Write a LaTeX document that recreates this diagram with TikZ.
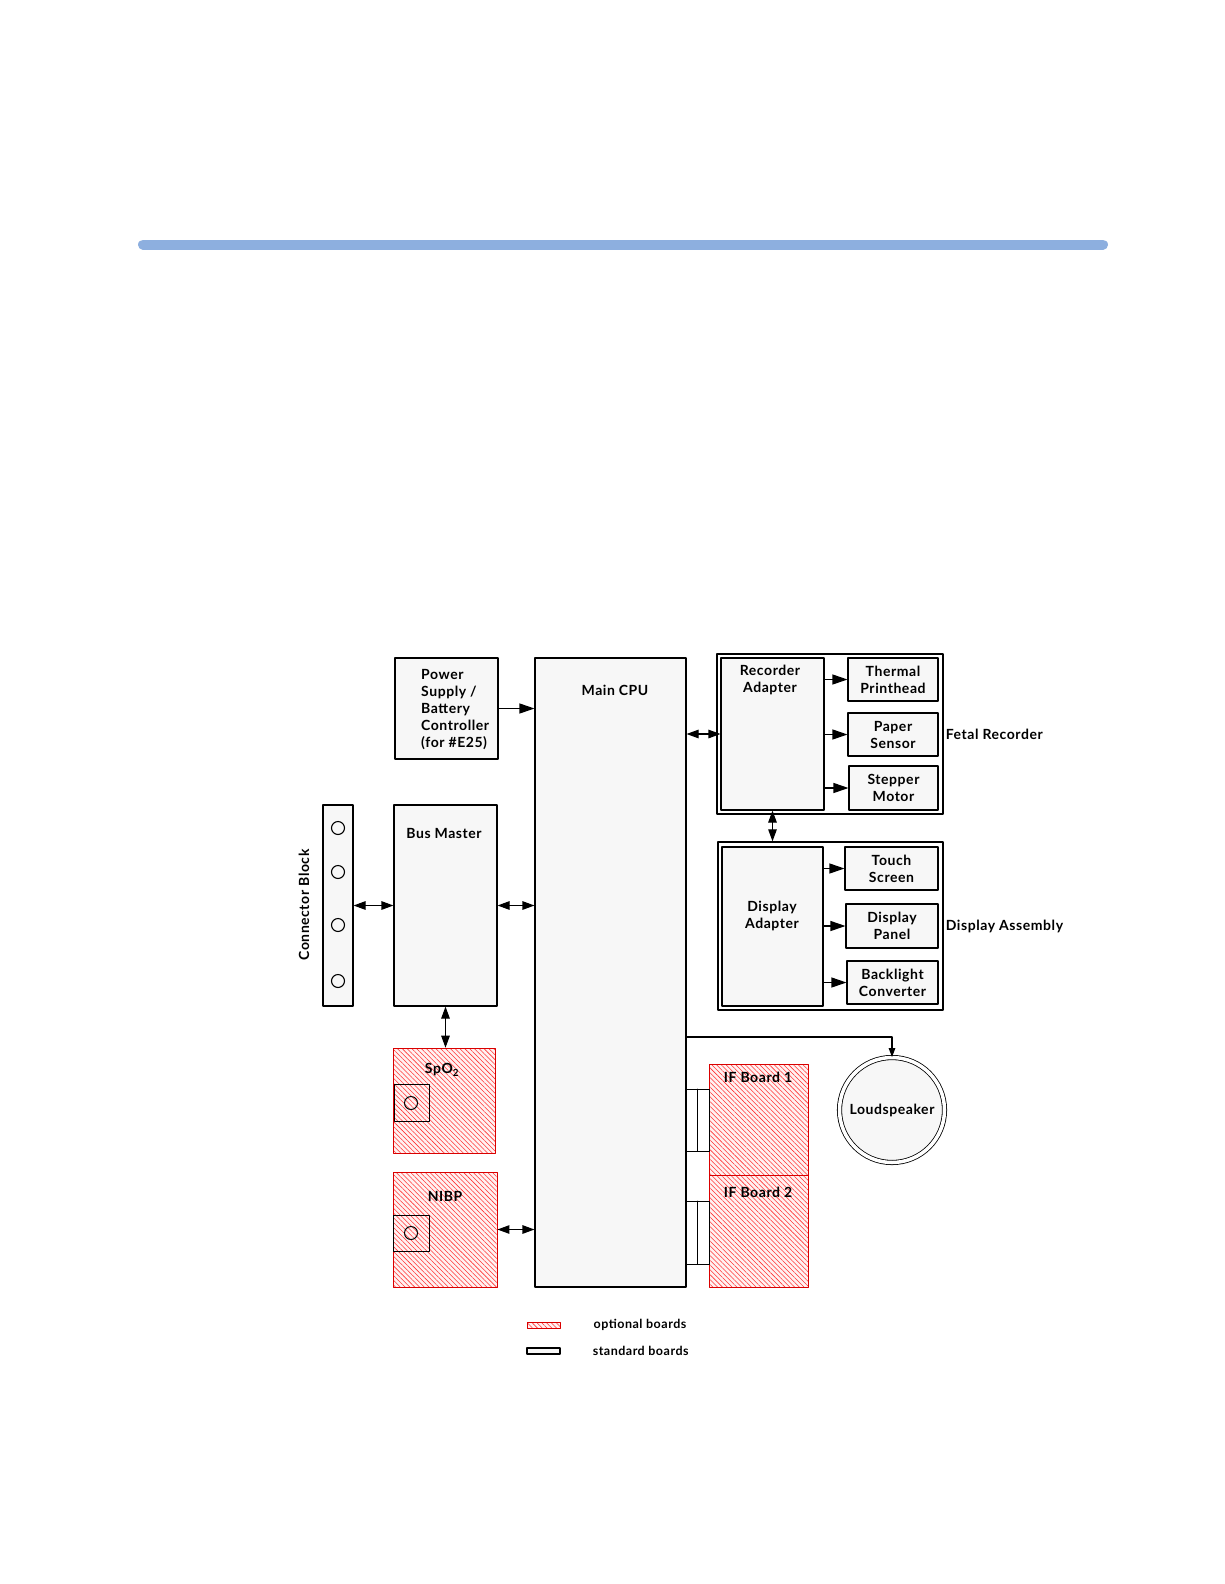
\documentclass[tikz,border=0pt]{standalone}
\usepackage{fontspec}
\setmainfont{Lato}[LetterSpace=4]
\usepackage{xcolor}
\usetikzlibrary{arrows.meta, positioning, patterns.meta}

\definecolor{barblue}{HTML}{8DAFDF}
\definecolor{boxgray}{HTML}{F7F7F7}

\tikzset{
  board/.style={draw, line width=1.1pt, fill=boxgray, inner sep=0pt},
  group/.style={draw, line width=1.3pt, inner sep=0pt},
  optboard/.style={draw=red!85!black, line width=0.9pt, preaction={fill=red!5},
    pattern={Lines[angle=-45, distance=3.4pt, line width=0.55pt]}, pattern color=red!80, inner sep=0pt},
  lbl/.style={font=\fontsize{14}{17}\selectfont\bfseries, align=center, inner sep=0pt},
  keylbl/.style={font=\fontsize{12.5}{15}\selectfont\bfseries, inner sep=0pt},
  sgl/.style={-{Triangle[length=15pt,width=10pt]}, line width=1.1pt},
  dbl/.style={{Triangle[length=12pt,width=8.5pt]}-{Triangle[length=12pt,width=8.5pt]}, line width=1.1pt},
}

\begin{document}
\begin{tikzpicture}[x=1pt, y=-1pt, line cap=round, line join=round]
    \useasboundingbox (0,0) rectangle (1224,1584);

    % Header bar
    \draw[line width=10pt, color=barblue] (143,244.5) -- (1103,244.5);

    % Left column
    \node[board, minimum width=103, minimum height=101] (power) at (446.5,708.5) {};
    \node[lbl, align=left, anchor=west] at (421,710) {Power\\Supply /\\Battery\\Controller\\(for \#E25)};
    \node[board, minimum width=103, minimum height=201] (bus) at (445.5,905.5) {};
    \node[lbl] at (444,833) {Bus Master};
    \node[board, minimum width=30, minimum height=201] (conn) at (338,905.5) {};
    \node[lbl, rotate=90] at (304,905) {Connector Block};
    \foreach \y in {828,872,925,981}{
        \draw[line width=1.1pt] (338,\y) circle[radius=6.5pt];
    }

    % Optional boards, left
    \node[optboard, minimum width=102, minimum height=105] (spo2) at (444,1100.5) {};
    \node[lbl] at (442,1070) {SpO\textsubscript{2}};
    \node[optboard, minimum width=104, minimum height=115] (nibp) at (445,1229.5) {};
    \node[lbl] at (445,1196) {NIBP};
    \draw[line width=0.9pt] (394,1084) rectangle (429,1121);
    \draw[line width=1pt] (411,1103) circle[radius=6.5pt];
    \draw[line width=0.9pt] (393,1215) rectangle (429,1251);
    \draw[line width=1pt] (411,1233) circle[radius=6.5pt];

    % Main CPU
    \node[board, minimum width=151, minimum height=629] (cpu) at (610.5,972.5) {};
    \node[lbl] at (615,690) {Main CPU};

    % Fetal recorder
    \node[group, minimum width=226, minimum height=160] (fetal) at (830,734) {};
    \node[lbl, right=2pt of fetal] {Fetal Recorder};
    \node[board, minimum width=103, minimum height=152] (recad) at (772.5,734) {};
    \node[lbl] at (770,680) {Recorder\\Adapter};
    \node[board, lbl, minimum width=90, minimum height=43] (thermal) at (893,679.5) {Thermal\\Printhead};
    \node[board, lbl, minimum width=90, minimum height=43] (paper) at (893,734.5) {Paper\\Sensor};
    \node[board, lbl, minimum width=89, minimum height=44] (stepper) at (893.5,788) {Stepper\\Motor};

    % Display assembly
    \node[group, minimum width=225, minimum height=168] (dispasm) at (830.5,926) {};
    \node[lbl, right=2pt of dispasm] {Display Assembly};
    \node[board, minimum width=101, minimum height=159] (dispad) at (772.5,926.5) {};
    \node[lbl] at (772,915.5) {Display\\Adapter};
    \node[board, lbl, minimum width=93, minimum height=43] (touch) at (891.5,868.5) {Touch\\Screen};
    \node[board, lbl, minimum width=92, minimum height=44] (panel) at (892,926) {Display\\Panel};
    \node[board, lbl, minimum width=91, minimum height=43] (backlight) at (892.5,982.5) {Backlight\\Converter};

    % IF boards and loudspeaker
    \node[optboard, minimum width=99, minimum height=111] (if1) at (758.5,1119.5) {};
    \node[lbl] at (758,1077) {IF Board 1};
    \node[optboard, minimum width=99, minimum height=112] (if2) at (758.5,1231) {};
    \node[lbl] at (758,1192) {IF Board 2};
    \foreach \ya/\yb in {1089/1151, 1201/1264}{
        \draw[line width=0.9pt, fill=white] (686,\ya) rectangle (709,\yb);
        \draw[line width=0.9pt] (697,\ya) -- (697,\yb);
    }
    \node[draw, circle, lbl, fill=boxgray, minimum size=105, line width=0.8pt,
          double, double distance=3.5pt] (spk) at (892,1110) {Loudspeaker};

    % Connections
    \draw[sgl] (power.east) -- (power.east -| cpu.west);
    \draw[dbl] (conn.east) -- (bus.west);
    \draw[dbl] (bus.east) -- (bus.east -| cpu.west);
    \draw[dbl] (bus.south) -- (bus.south |- spo2.north);
    \draw[dbl] (nibp.east) -- (nibp.east -| cpu.west);
    \draw[dbl] (recad.west -| cpu.east) -- (recad.west);
    \draw[dbl] (recad.south) -- (recad.south |- dispasm.north);
    \foreach \n in {thermal,paper,stepper}{
        \draw[sgl] (recad.east |- \n.west) -- (\n.west);
    }
    \foreach \n in {touch,panel,backlight}{
        \draw[sgl] (dispad.east |- \n.west) -- (\n.west);
    }
    \draw[-{Triangle[length=9pt,width=6.5pt]}, line width=1.2pt] (cpu.east |- 0,1037) -| (spk.north);

    % Legend
    \node[optboard, minimum width=33, minimum height=6] (optkey) at (543.5,1325) {};
    \node[keylbl, anchor=west, right=33pt of optkey] {optional boards};
    \node[board, minimum width=33, minimum height=6] (stdkey) at (543.5,1351) {};
    \node[keylbl, anchor=west, right=32pt of stdkey] {standard boards};

\end{tikzpicture}
\end{document}
